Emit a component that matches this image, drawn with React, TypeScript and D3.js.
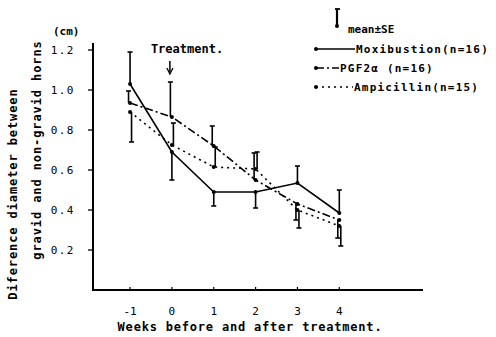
import { useRef, useEffect } from "react";
import * as d3 from "d3";

const weeks = [-1, 0, 1, 2, 3, 4];
const yTicks = [0.2, 0.4, 0.6, 0.8, 1.0, 1.2];

// mean values, cm
const moxibustion = [1.03, 0.69, 0.49, 0.49, 0.535, 0.385];
const pgf2a = [0.935, 0.865, 0.72, 0.55, 0.43, 0.35];
const ampicillin = [0.89, 0.725, 0.615, 0.605, 0.4, 0.32];

// SE, sign gives the side the bar is drawn on (+ up, - down)
const moxibustionSE = [0.16, -0.14, -0.07, -0.08, 0.085, 0.115];
const pgf2aSE = [0.06, 0.175, 0.1, 0.135, -0.08, -0.09];
const ampicillinSE = [-0.15, 0.11, 0.1, 0.085, -0.09, -0.1];

const legendLabels = ["Moxibustion(n=16)", "PGF2α (n=16)", "Ampicillin(n=15)"];

const W = 496;
const H = 337;
const FONT = "'DejaVu Sans Mono', monospace";

export default function App() {
  const svgRef = useRef(null);

  useEffect(() => {
    const svg = d3.select(svgRef.current);
    svg.attr("viewBox", [0, 0, W, H]);
    svg.selectAll("*").remove();

    const x = d3.scaleLinear().domain([-1.885, 6]).range([93, 423]);
    const y = d3.scaleLinear().domain([0, 1.2]).range([290, 50]);

    const series = [
      { name: legendLabels[0], vals: moxibustion, se: moxibustionSE, dash: null, dx: 0 },
      { name: legendLabels[1], vals: pgf2a, se: pgf2aSE, dash: "8,3,2,3", dx: -1.5 },
      { name: legendLabels[2], vals: ampicillin, se: ampicillinSE, dash: "2,4", dx: 1.5 },
    ];

    const g = svg.append("g");

    // axes
    g.append("line")
      .attr("x1", x(-1.885)).attr("x2", x(-1.885))
      .attr("y1", 43).attr("y2", y(0))
      .attr("stroke", "#000").attr("stroke-width", 2);
    g.append("line")
      .attr("x1", x(-1.885) - 1).attr("x2", x(6))
      .attr("y1", y(0)).attr("y2", y(0))
      .attr("stroke", "#000").attr("stroke-width", 2);

    yTicks.forEach((t) => {
      g.append("line")
        .attr("x1", x(-1.885) - 5).attr("x2", x(-1.885))
        .attr("y1", y(t)).attr("y2", y(t))
        .attr("stroke", "#000").attr("stroke-width", 1.3);
      g.append("text")
        .attr("x", 75).attr("y", y(t) + 4)
        .attr("text-anchor", "end")
        .attr("font-family", FONT).attr("font-size", 11)
        .attr("letter-spacing", 1.5)
        .text(t.toFixed(1));
    });

    weeks.forEach((w) => {
      g.append("line")
        .attr("x1", x(w)).attr("x2", x(w))
        .attr("y1", y(0)).attr("y2", y(0) - 3)
        .attr("stroke", "#000").attr("stroke-width", 1.2);
      g.append("text")
        .attr("x", x(w)).attr("y", 315)
        .attr("text-anchor", "middle")
        .attr("font-family", FONT).attr("font-size", 11)
        .text(w < 0 ? "-" + Math.abs(w) : String(w));
    });

    g.append("text")
      .attr("x", 250).attr("y", 331)
      .attr("text-anchor", "middle")
      .attr("font-family", FONT).attr("font-size", 12)
      .attr("font-weight", "bold")
      .attr("letter-spacing", 0.8)
      .text("Weeks before and after treatment.");

    g.append("text")
      .attr("x", 53).attr("y", 35)
      .attr("font-family", FONT).attr("font-size", 11)
      .attr("font-weight", "bold")
      .text("(cm)");

    // y title, two rotated lines
    g.append("text")
      .attr("transform", "translate(17,194) rotate(-90)")
      .attr("text-anchor", "middle")
      .attr("font-family", FONT).attr("font-size", 12)
      .attr("font-weight", "bold")
      .attr("letter-spacing", 0.9)
      .text("Diference diameter between");
    g.append("text")
      .attr("transform", "translate(41,150) rotate(-90)")
      .attr("text-anchor", "middle")
      .attr("font-family", FONT).attr("font-size", 12)
      .attr("font-weight", "bold")
      .attr("letter-spacing", 0.9)
      .text("gravid and non-gravid horns");

    // treatment annotation
    g.append("text")
      .attr("x", 187).attr("y", 53)
      .attr("text-anchor", "middle")
      .attr("font-family", FONT).attr("font-size", 12)
      .attr("font-weight", "bold")
      .text("Treatment.");
    g.append("line")
      .attr("x1", x(0) - 2).attr("x2", x(0) - 2)
      .attr("y1", 61).attr("y2", 72)
      .attr("stroke", "#000").attr("stroke-width", 1.5);
    g.append("path")
      .attr("d", `M${x(0) - 5},68 L${x(0) - 2},74 L${x(0) + 1},68`)
      .attr("fill", "none").attr("stroke", "#000").attr("stroke-width", 1.3);

    const line = d3.line<number>()
      .x((_, i) => x(weeks[i]))
      .y((d) => y(d));

    series.forEach((s) => {
      g.append("path")
        .attr("d", line(s.vals))
        .attr("fill", "none")
        .attr("stroke", "#000")
        .attr("stroke-width", 1.6)
        .attr("stroke-dasharray", s.dash);

      s.vals.forEach((v, i) => {
        const cx = x(weeks[i]) + s.dx;
        const end = y(v + s.se[i]);
        g.append("line")
          .attr("x1", cx).attr("x2", cx)
          .attr("y1", y(v)).attr("y2", end)
          .attr("stroke", "#000").attr("stroke-width", 1.6);
        g.append("line")
          .attr("x1", cx - 2.5).attr("x2", cx + 2.5)
          .attr("y1", end).attr("y2", end)
          .attr("stroke", "#000").attr("stroke-width", 1.6);
        g.append("circle")
          .attr("cx", x(weeks[i])).attr("cy", y(v))
          .attr("r", 2).attr("fill", "#000");
      });
    });

    // legend
    const lg = svg.append("g");
    lg.append("line")
      .attr("x1", 337).attr("x2", 337).attr("y1", 9).attr("y2", 26)
      .attr("stroke", "#000").attr("stroke-width", 2.2);
    lg.append("line")
      .attr("x1", 335).attr("x2", 340).attr("y1", 9).attr("y2", 9)
      .attr("stroke", "#000").attr("stroke-width", 1.8);
    lg.append("circle").attr("cx", 337).attr("cy", 26).attr("r", 2).attr("fill", "#000");
    lg.append("text")
      .attr("x", 348).attr("y", 33)
      .attr("font-family", FONT).attr("font-size", 11)
      .attr("font-weight", "bold")
      .text("mean±SE");

    const rows = [49, 68, 87];
    const lineEnds = [355, 339, 353];
    series.forEach((s, i) => {
      lg.append("line")
        .attr("x1", 316).attr("x2", lineEnds[i])
        .attr("y1", rows[i]).attr("y2", rows[i])
        .attr("stroke", "#000").attr("stroke-width", 1.6)
        .attr("stroke-dasharray", s.dash);
      lg.append("circle").attr("cx", 316).attr("cy", rows[i]).attr("r", 2).attr("fill", "#000");
      lg.append("text")
        .attr("x", lineEnds[i] + 1).attr("y", rows[i] + 4)
        .attr("font-family", FONT).attr("font-size", 11)
        .attr("font-weight", "bold")
        .attr("letter-spacing", 1.2)
        .text(s.name);
    });
  }, []);

  return (
    <svg
      ref={svgRef}
      width={W}
      height={H}
      style={{ position: "absolute", left: 0, top: 0, background: "#fff" }}
    />
  );
}
